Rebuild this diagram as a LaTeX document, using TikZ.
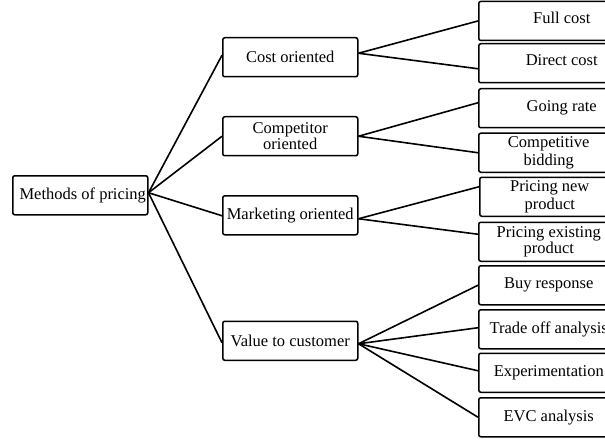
\documentclass[tikz,border=0pt]{standalone}
\usepackage{fontspec}
\setmainfont{Liberation Serif}
\begin{document}
\begin{tikzpicture}[x=1pt,y=-1pt,
  box/.style={draw, line width=1.5pt, rounded corners=2pt, inner sep=0pt,
    align=center, anchor=north west, minimum height=39pt,
    font=\fontsize{16.5}{17}\selectfont},
  midbox/.style={box, minimum width=135pt},
  leafbox/.style={box, minimum width=140pt},
  link/.style={line width=1.6pt}
]
\useasboundingbox (0,0) rectangle (605,441);
\clip (0,0) rectangle (605,441);

% root
\node[midbox] (root) at (12,175) {\hspace*{5pt}Methods of pricing};

% second level
\node[midbox] (cost) at (222,37) {Cost oriented};
\node[midbox, font=\fontsize{16.5}{16.5}\selectfont] (comp) at (222,116) {Competitor\\oriented};
\node[midbox] (mark) at (222,195) {Marketing oriented};
\node[midbox] (value) at (222,320.5) {Value to customer};

% leaves
\node[leafbox] (full) at (478,0.7) {\hspace*{26pt}\raisebox{3pt}[\height][\depth]{Full cost}};
\node[leafbox] (direct) at (478,43) {\hspace*{26pt}\raisebox{3pt}[\height][\depth]{Direct cost}};
\node[leafbox] (going) at (478,88) {\hspace*{26pt}Going rate};
\node[leafbox, font=\fontsize{16.5}{18.5}\selectfont] (bid) at (478,132.5) {Competitive\\bidding};
\node[leafbox, font=\fontsize{16.5}{18.5}\selectfont] (newp) at (479,176.5) {Pricing new\\product};
\node[leafbox, font=\fontsize{16.5}{15.5}\selectfont] (exist) at (478,221.5) {Pricing existing\\product};
\node[leafbox] (buy) at (478,265) {Buy response};
\node[leafbox] (trade) at (478,309) {Trade off analysis};
\node[leafbox] (exper) at (478,352.5) {Experimentation};
\node[leafbox] (evc) at (478,397) {EVC analysis};

% root to second level
\draw[link] ([yshift=2.5pt]root.east) -- ([yshift=2pt]cost.west);
\draw[link] ([yshift=2.5pt]root.east) -- (comp.west);
\draw[link] ([yshift=2.5pt]root.east) -- ([yshift=-0.5pt]mark.west);
\draw[link] ([yshift=2.5pt]root.east) -- ([yshift=-2pt]value.west);

% second level to leaves
\draw[link] ([yshift=4pt]cost.east) -- (full.west);
\draw[link] ([yshift=4pt]cost.east) -- ([yshift=-5.5pt]direct.west);
\draw[link] (comp.east) -- ([yshift=5.5pt]going.west);
\draw[link] (comp.east) -- (bid.west);
\draw[link] ([yshift=-3.5pt]mark.east) -- ([yshift=10pt]newp.west);
\draw[link] ([yshift=-3.5pt]mark.east) -- ([yshift=7.5pt]exist.west);
\draw[link] ([yshift=-3pt]value.east) -- (buy.west);
\draw[link] ([yshift=-3pt]value.east) -- ([yshift=1.5pt]trade.west);
\draw[link] ([yshift=-3pt]value.east) -- ([yshift=2pt]exper.west);
\draw[link] ([yshift=-3pt]value.east) -- (evc.west);
\end{tikzpicture}
\end{document}
